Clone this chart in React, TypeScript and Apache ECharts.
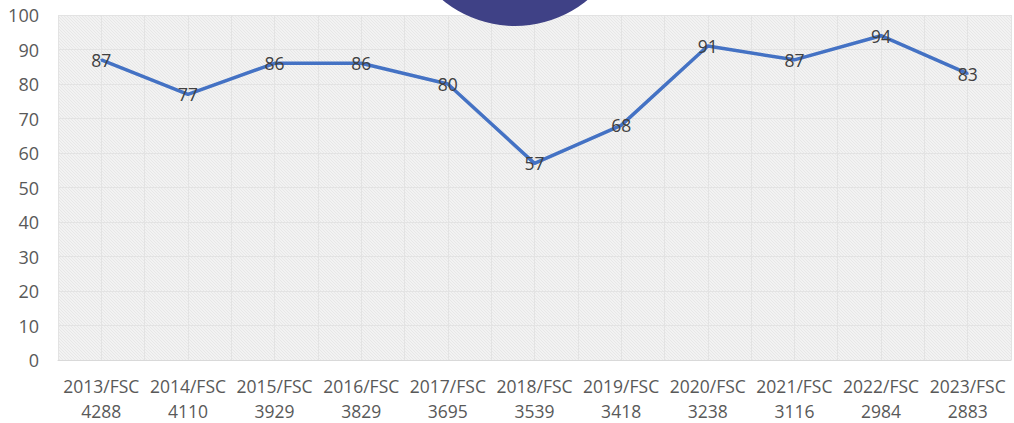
import React, { useEffect, useRef } from "react";
import * as echarts from "echarts";

const years = ["2013", "2014", "2015", "2016", "2017", "2018", "2019", "2020", "2021", "2022", "2023"];
const fscCounts = ["4288", "4110", "3929", "3829", "3695", "3539", "3418", "3238", "3116", "2984", "2883"];
const values = [87, 77, 86, 86, 80, 57, 68, 91, 87, 94, 83];
const yTicks = { min: 0, max: 100, interval: 10 };

const categories = years.map((y, i) => `${y}/FSC\n${fscCounts[i]}`);

const hatchSvg =
  "data:image/svg+xml;utf8," +
  encodeURIComponent(
    '<svg xmlns="http://www.w3.org/2000/svg" width="3" height="3">' +
      '<rect width="3" height="3" fill="#f2f2f2"/>' +
      '<path d="M-1,-1 L4,4 M-1,2 L1,4 M2,-1 L4,1" stroke="#e4e4e4" stroke-width="0.8"/>' +
      "</svg>"
  );

export default function App() {
  const ref = useRef<HTMLDivElement>(null);
  useEffect(() => {
    if (!ref.current) return;
    const chart = echarts.init(ref.current, undefined, { renderer: "svg" });
    const font = "'Open Sans', 'DejaVu Sans', sans-serif";
    chart.setOption({
      animation: false,
      grid: {
        left: 58,
        right: 3,
        top: 15,
        bottom: 63,
        show: true,
        borderWidth: 0,
        backgroundColor: { image: hatchSvg, repeat: "repeat" },
      },
      graphic: [
        {
          type: "circle",
          shape: { cx: 515, cy: -88, r: 114 },
          style: { fill: "#3f4186" },
          z: 100,
        },
      ],
      xAxis: [
        {
          type: "category",
          data: categories,
          boundaryGap: true,
          axisLine: { show: true, lineStyle: { color: "#d9d9d9", width: 1 } },
          axisTick: { show: false },
          splitLine: { show: false },
          axisLabel: {
            color: "#595959",
            fontSize: 17.5,
            fontFamily: font,
            lineHeight: 25,
            margin: 13,
            interval: 0,
          },
        },
        {
          type: "value",
          min: 0,
          max: 22,
          interval: 1,
          position: "top",
          axisLine: { show: false },
          axisTick: { show: false },
          axisLabel: { show: false },
          splitLine: { show: true, lineStyle: { color: "#e3e3e3", width: 1 } },
        },
      ],
      yAxis: {
        type: "value",
        min: yTicks.min,
        max: yTicks.max,
        interval: yTicks.interval,
        axisLine: { show: false },
        axisTick: { show: false },
        splitLine: { show: true, lineStyle: { color: "#e3e3e3", width: 1 } },
        axisLabel: {
          color: "#595959",
          fontSize: 18,
          fontFamily: font,
          margin: 19,
        },
      },
      series: [
        {
          type: "line",
          data: values,
          xAxisIndex: 0,
          symbol: "circle",
          symbolSize: 2,
          showSymbol: true,
          itemStyle: { color: "#4472c4" },
          lineStyle: { color: "#4472c4", width: 3.5 },
          label: {
            show: true,
            position: "inside",
            color: "#404040",
            fontSize: 17.5,
            fontFamily: font,
          },
          z: 3,
        },
      ],
    });
    return () => chart.dispose();
  }, []);
  return <div ref={ref} style={{ width: 1014, height: 423, position: "absolute", left: 0, top: 0 }} />;
}
